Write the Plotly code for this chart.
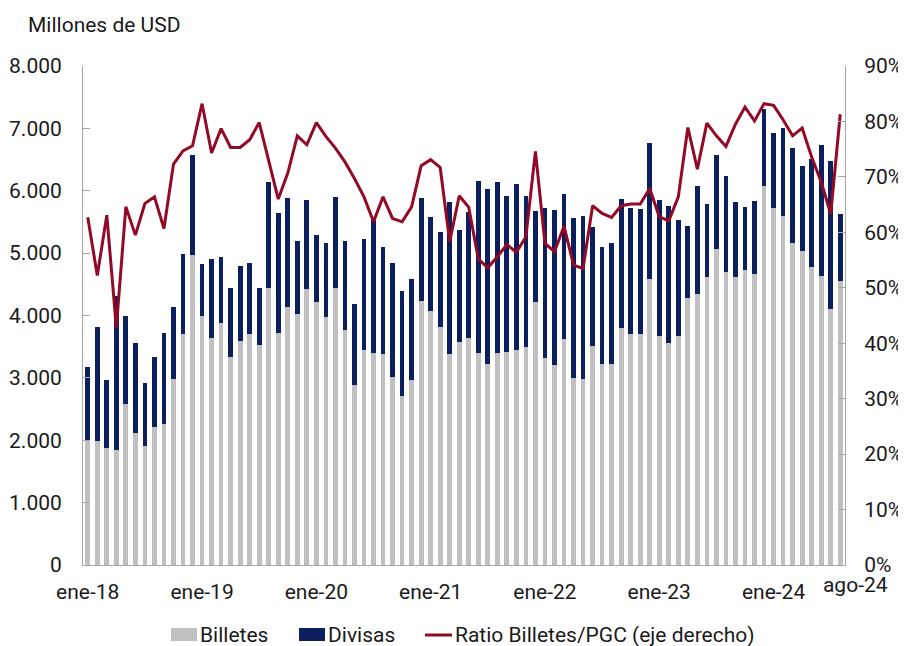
import plotly.graph_objects as go

months_es = ["ene", "feb", "mar", "abr", "may", "jun", "jul", "ago", "sep", "oct", "nov", "dic"]
categories = [f"{m}-{y}" for y in range(18, 25) for m in months_es][:80]

billetes = [1988, 1988, 1870, 1844, 2581, 2111, 1908, 2212, 2255, 2982, 3698, 4970,
            3997, 3639, 3874, 3340, 3596, 3698, 3527, 4441, 3714, 4141, 4019, 4425,
            4211, 3976, 4436, 3773, 2886, 3442, 3404, 3377, 3019, 2715, 2961, 4227,
            4072, 3816, 3388, 3570, 3639, 3393, 3222, 3398, 3410, 3442, 3500, 4216,
            3324, 3201, 3623, 2993, 2987, 3506, 3222, 3222, 3795, 3708, 3698, 4585,
            3666, 3554, 3666, 4280, 4340, 4612, 5071, 4697, 4617, 4729, 4665, 6071,
            5723, 5600, 5162, 5034, 4773, 4633, 4099, 4558]

divisas = [1182, 1823, 1101, 2469, 1416, 1443, 1015, 1128, 1465, 1149, 1283, 1608,
           829, 1267, 1064, 1106, 1192, 1139, 909, 1704, 1929, 1738, 1181, 1427,
           1075, 1181, 1469, 1421, 1293, 1790, 2127, 1716, 1828, 1678, 1619, 1657,
           1507, 1517, 2437, 1801, 2020, 2758, 2806, 2737, 2511, 2671, 2416, 1464,
           2405, 2490, 2320, 2570, 2613, 1913, 1881, 1935, 2078, 2010, 2004, 2181,
           2186, 2196, 1860, 1160, 1731, 1180, 1507, 1539, 1198, 1010, 1166, 1244,
           1198, 1411, 1523, 1368, 1741, 2105, 2383, 1064]

ratio = [62.7, 52.2, 63.1, 42.8, 64.6, 59.5, 65.2, 66.4, 60.7, 72.3, 74.7, 75.6,
         83.2, 74.3, 78.7, 75.3, 75.3, 76.7, 79.8, 73.0, 66.0, 70.7, 77.4, 75.8,
         79.8, 77.3, 75.2, 72.7, 69.7, 66.4, 61.9, 66.4, 62.5, 61.9, 64.6, 72.0,
         73.1, 71.7, 58.3, 66.6, 64.5, 55.2, 53.6, 55.6, 57.8, 56.4, 59.2, 74.6,
         58.0, 56.5, 61.1, 54.1, 53.5, 64.8, 63.4, 62.7, 64.8, 65.1, 65.1, 67.9,
         62.8, 62.1, 66.4, 78.9, 71.4, 79.7, 77.4, 75.5, 79.5, 82.6, 80.1, 83.2,
         82.9, 80.3, 77.4, 78.8, 73.6, 69.1, 63.3, 81.3]

tick_labels = ["ene-18", "ene-19", "ene-20", "ene-21", "ene-22", "ene-23", "ene-24"]
last_label = "ago-24"

series_names = ["Billetes", "Divisas", "Ratio Billetes/PGC (eje derecho)"]

FONT = "Roboto"
FS = 21
GREY = "#C0C0C0"
NAVY = "#0B1F5E"
RED = "#920A25"
AXIS = "#A6A6A6"
TXT = "#1a1a1a"

# page has an 8px body margin; figure starts at (8, 8) and reaches the window edge
OFF = 8
W, H = 906 - OFF, 646 - OFF
L, T = 83 - OFF, 66 - OFF
R = W - (845 - OFF)
B = H - (565 - OFF)
PH = H - T - B
PW = W - L - R


def px(xp):
    return (xp - 83) / PW


def py(yp):
    return (565 - yp) / PH


idx = list(range(len(categories)))

fig = go.Figure()
fig.add_trace(go.Bar(x=categories, y=billetes, name=series_names[0], showlegend=False,
                     marker=dict(color=GREY, line=dict(width=0))))
fig.add_trace(go.Bar(x=categories, y=divisas, name=series_names[1], showlegend=False,
                     marker=dict(color=NAVY, line=dict(width=0))))
fig.add_trace(go.Scatter(x=idx, y=[r / 100 for r in ratio], name=series_names[2],
                         text=categories, hovertemplate="%{text}: %{y:.1%}<extra></extra>",
                         showlegend=False, mode="lines", line=dict(color=RED, width=3),
                         xaxis="x2", yaxis="y2"))

# legend drawn beneath the plot (wide swatches like the original)
shapes = [
    dict(type="rect", xref="paper", yref="paper", x0=px(171), x1=px(197), y0=py(641), y1=py(628),
         fillcolor=GREY, line=dict(width=0)),
    dict(type="rect", xref="paper", yref="paper", x0=px(299), x1=px(325), y0=py(641), y1=py(628),
         fillcolor=NAVY, line=dict(width=0)),
    dict(type="line", xref="paper", yref="paper", x0=px(425), x1=px(452), y0=py(635), y1=py(635),
         line=dict(color=RED, width=3)),
]
legend_text_x = [198, 326, 453]
annotations = [dict(text=n, xref="paper", yref="paper", x=px(xx), y=py(634.5), xanchor="left",
                    yanchor="middle", showarrow=False, font=dict(size=FS, color=TXT))
               for n, xx in zip(series_names, legend_text_x)]
annotations.append(dict(text="Millones de USD", xref="paper", yref="paper",
                        x=px(26), y=py(25), xanchor="left", yanchor="middle",
                        showarrow=False, font=dict(size=FS, color=TXT)))

fig.update_layout(
    width=W, height=H,
    margin=dict(l=L, r=R, t=T, b=B, autoexpand=False),
    paper_bgcolor="white", plot_bgcolor="white",
    barmode="stack", bargap=0.5,
    separators=",.",
    font=dict(family=FONT, size=FS, color=TXT),
    showlegend=False,
    xaxis=dict(type="category", range=[-0.5, len(categories) - 0.5], tickmode="array",
               tickvals=tick_labels, ticktext=tick_labels, showline=True,
               linecolor=AXIS, linewidth=1, ticks="", showgrid=False, tickangle=0,
               ticklabelstandoff=8, automargin=False),
    xaxis2=dict(type="linear", overlaying="x", side="bottom", anchor="y2",
                range=[-0.5, len(categories) - 0.5], tickmode="array",
                tickvals=[len(categories) - 1], ticktext=[last_label],
                showline=False, ticks="", showgrid=False, zeroline=False, tickangle=0,
                ticklabelstandoff=5, ticklabelshift=15, automargin=False),
    yaxis=dict(range=[0, 8000], tickvals=[0, 1000, 2000, 3000, 4000, 5000, 6000, 7000, 8000],
               tickformat=",d", showline=True, linecolor=AXIS, linewidth=1,
               ticks="inside", ticklen=7, tickcolor=AXIS, showgrid=False, zeroline=False,
               ticklabelstandoff=16, automargin=False),
    yaxis2=dict(range=[0, 0.9], overlaying="y", side="right", anchor="x2",
                tickvals=[0, 0.1, 0.2, 0.3, 0.4, 0.5, 0.6, 0.7, 0.8, 0.9],
                tickformat=".0%", showline=True, linecolor=AXIS, linewidth=1,
                ticks="inside", ticklen=7, tickcolor=AXIS, showgrid=False, zeroline=False,
                ticklabelstandoff=14, automargin=False),
    shapes=shapes,
    annotations=annotations,
)

fig.write_html("out.html")
